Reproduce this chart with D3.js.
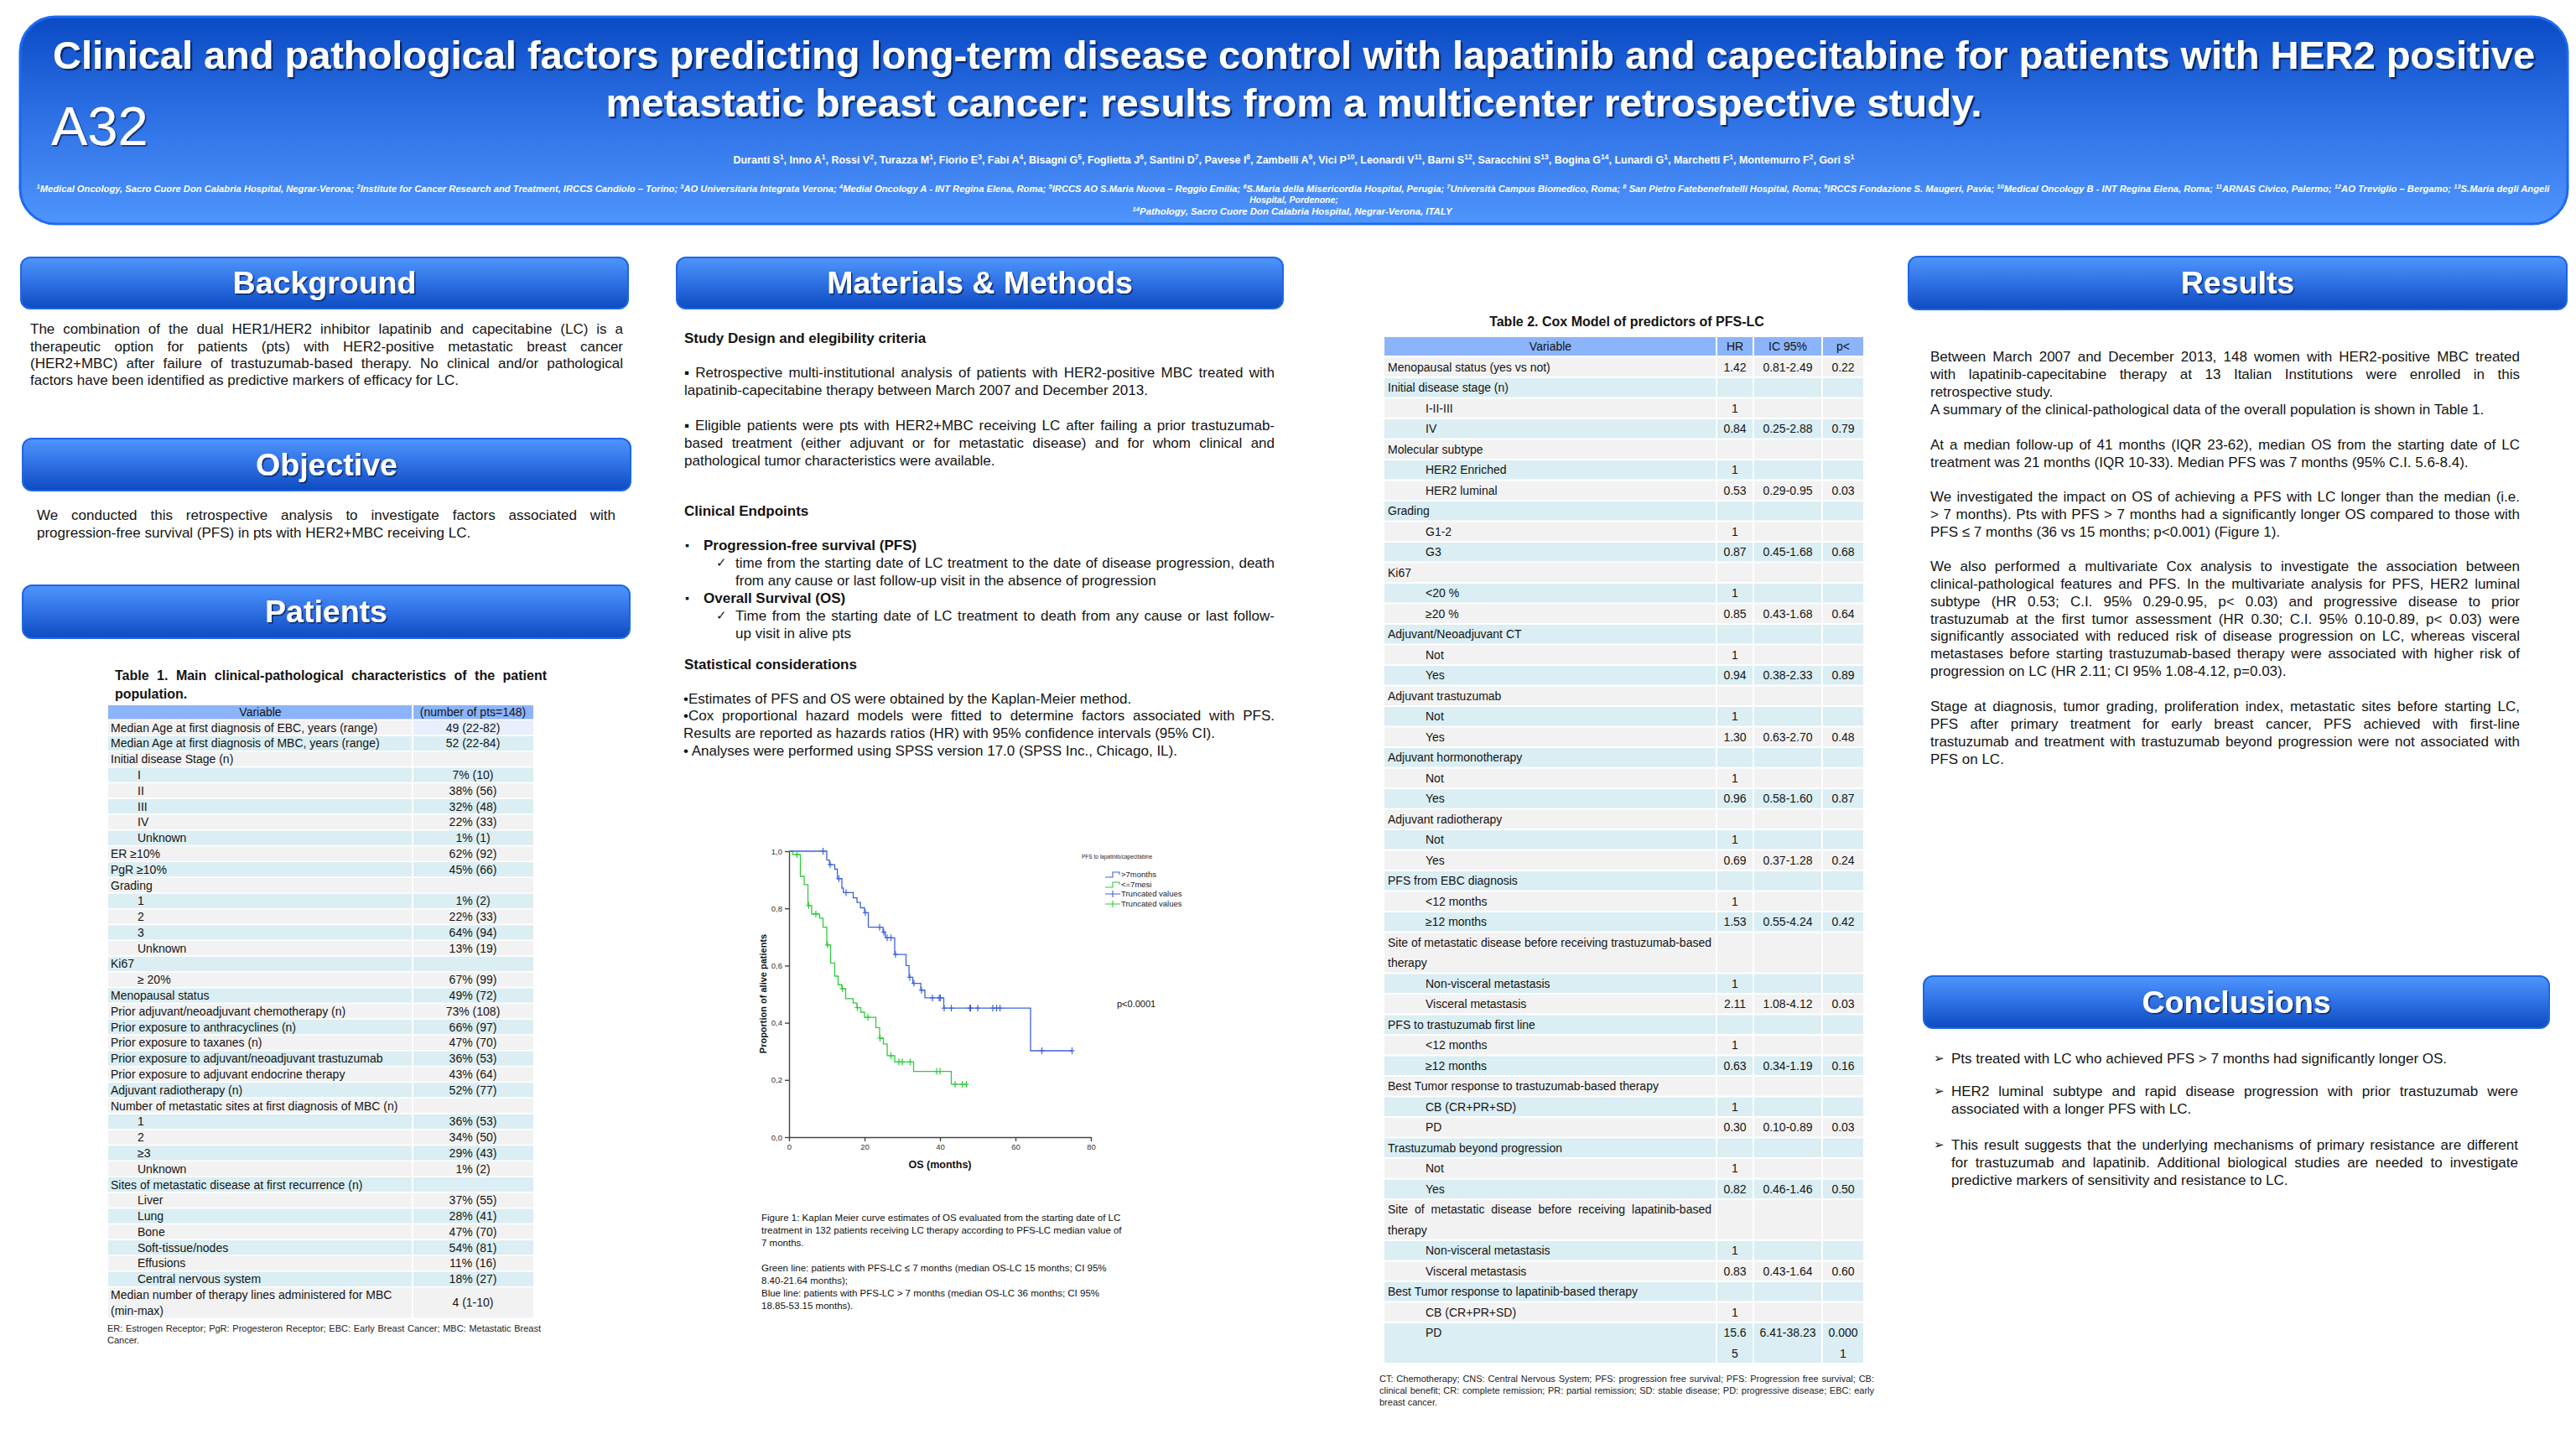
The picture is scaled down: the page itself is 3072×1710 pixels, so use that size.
<!DOCTYPE html>
<html><head><meta charset="utf-8">
<script src="https://cdn.jsdelivr.net/npm/d3@7"></script>
<style>html,body{margin:0;padding:0;background:#fff}svg{display:block}</style>
</head><body>
<svg id="poster" width="3072" height="1710" xmlns="http://www.w3.org/2000/svg"></svg>
<script>
// ===================== DATA =====================
const posterCode = "A32";
const titleLines = [
  "Clinical and pathological factors predicting long-term disease control with lapatinib and capecitabine for patients with HER2 positive",
  "metastatic breast cancer: results from a multicenter retrospective study."
];
const authors = [["Duranti S","1"],["Inno A","1"],["Rossi V","2"],["Turazza M","1"],["Fiorio E","3"],["Fabi A","4"],["Bisagni G","5"],["Foglietta J","6"],["Santini D","7"],["Pavese I","8"],["Zambelli A","9"],["Vici P","10"],["Leonardi V","11"],["Barni S","12"],["Saracchini S","13"],["Bogina G","14"],["Lunardi G","1"],["Marchetti F","1"],["Montemurro F","2"],["Gori S","1"]];
const affiliationsLine1 = [["1","Medical Oncology, Sacro Cuore Don Calabria Hospital, Negrar-Verona; "],["2","Institute for Cancer Research and Treatment, IRCCS Candiolo – Torino; "],["3","AO Universitaria Integrata Verona; "],["4","Medial Oncology A - INT Regina Elena, Roma; "],["5","IRCCS AO S.Maria Nuova – Reggio Emilia; "],["6","S.Maria della Misericordia Hospital, Perugia; "],["7","Università Campus Biomedico, Roma; "],["8"," San Pietro Fatebenefratelli Hospital, Roma; "],["9","IRCCS Fondazione S. Maugeri, Pavia; "],["10","Medical Oncology B - INT Regina Elena, Roma; "],["11","ARNAS Civico, Palermo; "],["12","AO Treviglio – Bergamo; "],["13","S.Maria degli Angeli"]];
const affiliationsLine2 = "Hospital, Pordenone;";
const affiliationsLine3 = [["14","Pathology, Sacro Cuore Don Calabria Hospital, Negrar-Verona, ITALY"]];

const sectionTitles = ["Background","Objective","Patients","Materials & Methods","Results","Conclusions"];

const backgroundText = [[
  "The combination of the dual HER1/HER2 inhibitor lapatinib and capecitabine (LC) is a",
  "therapeutic option for patients (pts) with HER2-positive metastatic breast cancer",
  "(HER2+MBC) after failure of trastuzumab-based therapy. No clinical and/or pathological",
  "factors have been identified as predictive markers of efficacy for LC."
]];
const objectiveText = [[
  "We conducted this retrospective analysis to investigate factors associated with",
  "progression-free survival (PFS) in pts with HER2+MBC receiving LC."
]];
const methodsHeadings = ["Study Design and elegibility criteria","Clinical Endpoints","Statistical considerations"];
const methodsDesign = [
  ["▪ Retrospective multi-institutional analysis of patients with HER2-positive MBC treated with",
   "lapatinib-capecitabine therapy between March 2007 and December 2013."],
  ["▪ Eligible patients were pts with HER2+MBC receiving LC after failing a prior trastuzumab-",
   "based treatment (either adjuvant or for metastatic disease) and for whom clinical and",
   "pathological tumor characteristics were available."]
];
const endpointNames = ["Progression-free survival (PFS)","Overall Survival (OS)"];
const endpointDefs = [
  ["time from the starting date of LC treatment to the date of disease progression, death",
   "from any cause or last follow-up visit in the absence of progression"],
  ["Time from the starting date of LC treatment to death from any cause or last follow-",
   "up visit in alive pts"]
];
const methodsStats = [
  ["•Estimates of PFS and OS were obtained by the Kaplan-Meier method."],
  ["•Cox proportional hazard models were fitted to determine factors associated with PFS.",
   "Results are reported as hazards ratios (HR) with 95% confidence intervals (95% CI)."],
  ["• Analyses were performed using SPSS version 17.0 (SPSS Inc., Chicago, IL)."]
];
const resultsText = [
  ["Between March 2007 and December 2013, 148 women with HER2-positive MBC treated",
   "with lapatinib-capecitabine therapy at 13 Italian Institutions were enrolled in this",
   "retrospective study."],
  ["A summary of the clinical-pathological data of the overall population is shown in Table 1."],
  ["At a median follow-up of 41 months (IQR 23-62), median OS from the starting date of LC",
   "treatment was 21 months (IQR 10-33). Median PFS was 7 months (95% C.I. 5.6-8.4)."],
  ["We investigated the impact on OS of achieving a PFS with LC longer than the median (i.e.",
   "> 7 months). Pts with PFS > 7 months had a significantly longer OS compared to those with",
   "PFS ≤ 7 months (36 vs 15 months; p<0.001) (Figure 1)."],
  ["We also performed a multivariate Cox analysis to investigate the association between",
   "clinical-pathological features and PFS. In the multivariate analysis for PFS, HER2 luminal",
   "subtype (HR 0.53; C.I. 95% 0.29-0.95, p< 0.03) and progressive disease to prior",
   "trastuzumab at the first tumor assessment (HR 0.30; C.I. 95% 0.10-0.89, p< 0.03) were",
   "significantly associated with reduced risk of disease progression on LC, whereas visceral",
   "metastases before starting trastuzumab-based therapy were associated with higher risk of",
   "progression on LC (HR 2.11; CI 95% 1.08-4.12, p=0.03)."],
  ["Stage at diagnosis, tumor grading, proliferation index, metastatic sites before starting LC,",
   "PFS after primary treatment for early breast cancer, PFS achieved with first-line",
   "trastuzumab and treatment with trastuzumab beyond progression were not associated with",
   "PFS on LC."]
];
const conclusionsText = [
  ["Pts treated with LC who achieved PFS > 7 months had significantly longer OS."],
  ["HER2 luminal subtype and rapid disease progression with prior trastuzumab were",
   "associated with a longer PFS with LC."],
  ["This result suggests that the underlying mechanisms of primary resistance are different",
   "for trastuzumab and lapatinib. Additional biological studies are needed to investigate",
   "predictive markers of sensitivity and resistance to LC."]
];

// Table 1
const t1Title = ["Table 1. Main clinical-pathological characteristics of the patient","population."];
const t1Header = ["Variable","(number of pts=148)"];
const t1Labels = ["Median Age at first diagnosis of EBC, years (range)","Median Age at first diagnosis of MBC, years (range)","Initial disease Stage (n)","I","II","III","IV","Unknown","ER ≥10%","PgR ≥10%","Grading","1","2","3","Unknown","Ki67","≥ 20%","Menopausal status","Prior adjuvant/neoadjuvant chemotherapy (n)","Prior exposure to anthracyclines (n)","Prior exposure to taxanes (n)","Prior exposure to adjuvant/neoadjuvant trastuzumab","Prior exposure to adjuvant endocrine therapy","Adjuvant radiotherapy (n)","Number of metastatic sites at first diagnosis of MBC (n)","1","2","≥3","Unknown","Sites of metastatic disease at first recurrence (n)","Liver","Lung","Bone","Soft-tissue/nodes","Effusions","Central nervous system","Median number of therapy lines administered for MBC\n(min-max)"];
const t1Levels = [0,0,0,1,1,1,1,1,0,0,0,1,1,1,1,0,1,0,0,0,0,0,0,0,0,1,1,1,1,0,1,1,1,1,1,1,0];
const t1Values = ["49 (22-82)","52 (22-84)","","7% (10)","38% (56)","32% (48)","22% (33)","1% (1)","62% (92)","45% (66)","","1% (2)","22% (33)","64% (94)","13% (19)","","67% (99)","49% (72)","73% (108)","66% (97)","47% (70)","36% (53)","43% (64)","52% (77)","","36% (53)","34% (50)","29% (43)","1% (2)","","37% (55)","28% (41)","47% (70)","54% (81)","11% (16)","18% (27)","4 (1-10)"];
const t1Footnote = ["ER: Estrogen Receptor; PgR: Progesteron Receptor; EBC: Early Breast Cancer; MBC: Metastatic Breast","Cancer."];

// Table 2
const t2Title = "Table 2. Cox Model  of predictors  of PFS-LC";
const t2Header = ["Variable","HR","IC 95%","p<"];
const t2Labels = ["Menopausal status (yes vs not)","Initial disease stage (n)","I-II-III","IV","Molecular subtype","HER2 Enriched","HER2 luminal","Grading","G1-2","G3","Ki67","<20 %","≥20 %","Adjuvant/Neoadjuvant CT","Not","Yes","Adjuvant trastuzumab","Not","Yes","Adjuvant hormonotherapy","Not","Yes","Adjuvant radiotherapy","Not","Yes","PFS from EBC diagnosis","<12 months","≥12 months","Site of metastatic disease before receiving trastuzumab-based\ntherapy","Non-visceral metastasis","Visceral metastasis"," PFS to trastuzumab first line","<12 months","≥12 months","Best Tumor response to trastuzumab-based therapy","CB (CR+PR+SD)","PD","Trastuzumab beyond progression","Not","Yes","Site of metastatic disease before receiving lapatinib-based\ntherapy","Non-visceral metastasis","Visceral metastasis","Best Tumor response to lapatinib-based therapy","CB (CR+PR+SD)","PD\n "];
const t2Levels = [0,0,1,1,0,1,1,0,1,1,0,1,1,0,1,1,0,1,1,0,1,1,0,1,1,0,1,1,0,1,1,0,1,1,0,1,1,0,1,1,0,1,1,0,1,1];
const t2HR = ["1.42","","1","0.84","","1","0.53","","1","0.87","","1","0.85","","1","0.94","","1","1.30","","1","0.96","","1","0.69","","1","1.53","","1","2.11","","1","0.63","","1","0.30","","1","0.82","","1","0.83","","1","15.6\n5"];
const t2CI = ["0.81-2.49","","","0.25-2.88","","","0.29-0.95","","","0.45-1.68","","","0.43-1.68","","","0.38-2.33","","","0.63-2.70","","","0.58-1.60","","","0.37-1.28","","","0.55-4.24","","","1.08-4.12","","","0.34-1.19","","","0.10-0.89","","","0.46-1.46","","","0.43-1.64","","","6.41-38.23"];
const t2P = ["0.22","","","0.79","","","0.03","","","0.68","","","0.64","","","0.89","","","0.48","","","0.87","","","0.24","","","0.42","","","0.03","","","0.16","","","0.03","","","0.50","","","0.60","","","0.000\n1"];
const t2Footnote = ["CT: Chemotherapy; CNS: Central Nervous System; PFS: progression free survival; PFS: Progression free survival; CB:","clinical benefit; CR: complete remission; PR: partial remission; SD: stable disease; PD: progressive disease; EBC: early","breast cancer."];

// Kaplan-Meier (OS, months)
const kmXTicks = [0,20,40,60,80];
const kmYTicks = [0,0.2,0.4,0.6,0.8,1.0];
const blueTimes = [10.0,10.7,12.1,12.8,14.0,14.4,17.0,18.0,18.9,20.0,21.0,24.9,25.5,28.0,31.0,31.8,32.8,34.9,36.0,41.0,64.0];
const blueSurv  = [0.969,0.953,0.937,0.904,0.871,0.855,0.837,0.821,0.802,0.785,0.734,0.717,0.697,0.639,0.600,0.559,0.538,0.514,0.487,0.451,0.302];
const blueEnd = 75;
const blueCensor = [9.0,10.9,13.2,15.1,20.2,24.0,25.1,26.0,27.0,28.2,32.0,33.1,35.1,38.0,39.8,40.1,41.1,43.0,47.9,48.1,50.0,54.0,55.0,55.9,67.0,75.0];
const greenTimes = [1.0,3.0,4.0,5.0,6.0,8.1,9.0,10.0,11.0,12.1,13.0,14.0,15.0,17.0,18.0,19.0,20.0,23.0,24.0,25.0,26.0,28.0,33.0,43.0];
const greenSurv  = [0.988,0.912,0.883,0.810,0.780,0.766,0.734,0.672,0.609,0.563,0.533,0.519,0.484,0.469,0.453,0.437,0.419,0.383,0.346,0.326,0.285,0.263,0.230,0.185];
const greenEnd = 47;
const greenCensor = [2.1,5.2,7.1,10.2,14.1,18.1,20.9,24.1,27.0,29.1,30.0,32.1,39.1,40.0,44.0,45.9,47.0];
const kmLegendTitle = "PFS to lapatinib/capecitabine";
const kmLegend = [">7months","<=7mesi","Truncated values","Truncated values"];
const kmPText = "p<0.0001";
const kmXLabel = "OS (months)";
const kmYLabel = "Proportion of alive patients";
const figCaption = [
  ["Figure 1: Kaplan Meier curve estimates of OS evaluated from the starting date of LC",
   "treatment in 132 patients receiving LC therapy according to PFS-LC median value of",
   "7 months."],
  ["Green line: patients with PFS-LC ≤ 7 months (median OS-LC 15 months; CI 95%",
   "8.40-21.64 months);",
   "Blue line: patients with PFS-LC > 7 months (median OS-LC 36 months; CI 95%",
   "18.85-53.15 months)."]
];

// ===================== DRAWING =====================
const FONT = "'Liberation Sans', Arial, Helvetica, sans-serif";
const NARROW = "'Liberation Sans Narrow', 'Liberation Sans', Arial, sans-serif";
const INK = "#141414";
const svg = d3.select("#poster");
const defs = svg.append("defs");
function linGrad(id, stops){
  const g = defs.append("linearGradient").attr("id",id).attr("x1",0).attr("y1",0).attr("x2",0).attr("y2",1);
  stops.forEach(([o,c])=>g.append("stop").attr("offset",o).attr("stop-color",c));
}
linGrad("hdrGrad", [[0,"#0a4bc4"],[0.5,"#2f72e6"],[1,"#4f95fc"]]);
linGrad("secGrad", [[0,"#4e96fc"],[0.5,"#2f70e4"],[1,"#0c4bc0"]]);
function shadow(id, d){
  const f = defs.append("filter").attr("id",id).attr("x","-5%").attr("y","-30%").attr("width","110%").attr("height","160%");
  f.append("feDropShadow").attr("dx",d).attr("dy",d).attr("stdDeviation",0.7).attr("flood-color","#031a4a").attr("flood-opacity",0.8);
}
shadow("tshadow", 2.2); shadow("sshadow", 1.5);

const ctx = document.createElement("canvas").getContext("2d");
function tw(str, size, weight, style){ ctx.font = `${style||"normal"} ${weight||"normal"} ${size}px ${FONT}`; return ctx.measureText(str).width; }

function line(g, str, x, yc, o){
  o = o || {};
  const size = o.size||17, weight=o.weight||"normal", style=o.style||"normal";
  const t = g.append("text").attr("y", yc + size*0.36).attr("font-size",size)
    .attr("font-weight",weight).attr("font-style",style).attr("fill",o.fill||INK).attr("font-family",FONT);
  if (o.justify){
    const words = str.split(/\s+/).filter(Boolean);
    const ws = words.map(w=>tw(w,size,weight,style));
    const gap = words.length>1 ? (o.justify - d3.sum(ws))/(words.length-1) : 0;
    let cx = x;
    words.forEach((w,i)=>{ t.append("tspan").attr("x",cx).text(w); cx += ws[i]+gap; });
  } else {
    t.attr("x",x).attr("text-anchor",o.anchor||"start").text(str);
  }
  return t;
}
function para(g, lines, x, y0, width, lh, o){
  lines.forEach((ln,i)=>{
    line(g, ln, x, y0+i*lh, Object.assign({}, o, {justify: (i<lines.length-1 && width) ? width : null}));
  });
}

// ---------- Header ----------
const hdr = svg.append("g");
hdr.append("rect").attr("x",24).attr("y",20).attr("width",3038).attr("height",247).attr("rx",42)
  .attr("fill","url(#hdrGrad)").attr("stroke","#1d6af0").attr("stroke-width",3);
const titleW = [2960, 1641];
const titleBase = [82, 139];
titleLines.forEach((s,i)=>{
  hdr.append("text").attr("x",1543).attr("y",titleBase[i]).attr("text-anchor","middle")
    .attr("font-family",FONT).attr("font-weight","bold").attr("font-size",47).attr("fill","#fff")
    .attr("textLength",titleW[i]).attr("lengthAdjust","spacingAndGlyphs")
    .attr("filter","url(#tshadow)").text(s);
});
hdr.append("text").attr("x",61).attr("y",173).attr("font-family",FONT).attr("font-size",65)
  .attr("fill","#fff").attr("filter","url(#sshadow)").text(posterCode);

function supText(g, items, x, y, size, len, opts){
  const t = g.append("text").attr("x",x).attr("y",y).attr("text-anchor","middle")
    .attr("font-family",NARROW).attr("font-weight","bold").attr("font-style",opts.italic?"italic":"normal")
    .attr("font-size",size).attr("fill","#fff");
  if (len) t.attr("textLength",len).attr("lengthAdjust","spacingAndGlyphs");
  items.forEach(([a,b],i)=>{
    if (opts.supFirst){
      t.append("tspan").attr("font-size",size*0.68).attr("baseline-shift","super").text(a);
      t.append("tspan").attr("baseline-shift","0").text(b);
    } else {
      t.append("tspan").text(a);
      t.append("tspan").attr("font-size",size*0.68).attr("baseline-shift","super").text(b);
      if (i<items.length-1) t.append("tspan").text(", ");
    }
  });
  return t;
}
supText(hdr, authors, 1543, 195, 13, 1337, {});
supText(hdr, affiliationsLine1, 1542, 229, 10.5, 2997, {italic:true, supFirst:true});
hdr.append("text").attr("x",1543).attr("y",242).attr("text-anchor","middle").attr("font-family",NARROW)
  .attr("font-weight","bold").attr("font-style","italic").attr("font-size",10.5).attr("fill","#fff").text(affiliationsLine2);
supText(hdr, affiliationsLine3, 1541, 256, 10.5, 381, {italic:true, supFirst:true});

// ---------- Section boxes ----------
const secBoxes = [
  [25,307,724,61],[27,523,725,62],[27,698,724,63],[807,307,723,61],[2276,306,785,63],[2294,1164,746,62]
];
sectionTitles.forEach((s,i)=>{
  const [x,y,w,h] = secBoxes[i];
  const g = svg.append("g");
  g.append("rect").attr("x",x).attr("y",y).attr("width",w).attr("height",h).attr("rx",11)
    .attr("fill","url(#secGrad)").attr("stroke","#1f66e6").attr("stroke-width",2);
  g.append("text").attr("x",x+w/2).attr("y",y+h/2+12.5).attr("text-anchor","middle")
    .attr("font-family",FONT).attr("font-weight","bold").attr("font-size",37.5).attr("fill","#fff")
    .attr("filter","url(#sshadow)").text(s);
});

// ---------- Background / Objective ----------
const txt = svg.append("g");
para(txt, backgroundText[0], 36, 392, 707, 20.4, {size:17});
para(txt, objectiveText[0], 44, 614, 690, 21, {size:17});

// ---------- Methods ----------
line(txt, methodsHeadings[0], 816, 403, {size:17, weight:"bold"});
para(txt, methodsDesign[0], 816, 444, 704, 21, {size:17});
para(txt, methodsDesign[1], 816, 507, 704, 21, {size:17});
line(txt, methodsHeadings[1], 816, 609, {size:17, weight:"bold"});
const epY = [650, 713];
endpointNames.forEach((n,i)=>{
  line(txt, "▪", 817, epY[i], {size:14});
  line(txt, n, 839, epY[i], {size:17, weight:"bold"});
  line(txt, "✓", 854, epY[i]+21, {size:15});
  para(txt, endpointDefs[i], 877, epY[i]+21, 643, 21, {size:17});
});
line(txt, methodsHeadings[2], 816, 792, {size:17, weight:"bold"});
para(txt, methodsStats[0], 815, 833, 705, 20.8, {size:17});
para(txt, methodsStats[1], 815, 853, 705, 20.8, {size:17});
para(txt, methodsStats[2], 815, 895, 705, 20.8, {size:17});

// ---------- Results ----------
const resY = [425, 488, 530, 592, 675, 842];
resultsText.forEach((p,i)=> para(txt, p, 2302, resY[i], 703, 20.8, {size:17}));

// ---------- Conclusions ----------
const conY = [1262, 1301, 1365];
conclusionsText.forEach((p,i)=>{
  line(txt, "➢", 2306, conY[i], {size:15});
  para(txt, p, 2327, conY[i], 676, 21, {size:17});
});

// ---------- Table 1 ----------
const GREY="#f2f2f2", TEAL="#daeef3", LAV="#e7eefc", HEAD="#8cb4fa";
const t1 = svg.append("g");
line(t1, t1Title[0], 137, 805, {size:16, weight:"bold", justify:515});
line(t1, t1Title[1], 137, 827, {size:16, weight:"bold"});
const T1X = [129, 492, 636];
t1.append("rect").attr("x",T1X[0]).attr("y",841).attr("width",T1X[1]-T1X[0]-1).attr("height",16.5).attr("fill",HEAD);
t1.append("rect").attr("x",T1X[1]+1).attr("y",841).attr("width",T1X[2]-T1X[1]-1).attr("height",16.5).attr("fill",HEAD);
line(t1, t1Header[0], (T1X[0]+T1X[1])/2, 849.3, {size:14, anchor:"middle"});
line(t1, t1Header[1], (T1X[1]+T1X[2])/2, 849.3, {size:14, anchor:"middle"});
{
  const top = 859, rh = 18.79; let u = 0;
  t1Labels.forEach((lab,i)=>{
    const ls = lab.split("\n"), n = ls.length, y = top+u*rh, h = n*rh;
    const fill = i%2===0 ? GREY : TEAL;
    t1.append("rect").attr("x",T1X[0]).attr("y",y).attr("width",T1X[1]-T1X[0]-1).attr("height",h-1.6).attr("fill",fill);
    t1.append("rect").attr("x",T1X[1]+1).attr("y",y).attr("width",T1X[2]-T1X[1]-1).attr("height",h-1.6).attr("fill",i===0?LAV:fill);
    ls.forEach((l,k)=> line(t1, l, t1Levels[i]?164:132, y+(k+0.5)*rh-0.8, {size:14}));
    if (t1Values[i]) line(t1, t1Values[i], (T1X[1]+T1X[2])/2, y+h/2-0.8, {size:14, anchor:"middle"});
    u += n;
  });
}
line(t1, t1Footnote[0], 128, 1584, {size:11, justify:517, fill:"#222"});
line(t1, t1Footnote[1], 128, 1598, {size:11, fill:"#222"});

// ---------- Table 2 ----------
const t2 = svg.append("g");
line(t2, t2Title, 1940, 383, {size:16, weight:"bold", anchor:"middle"});
const T2X = [1651, 2047, 2091, 2173, 2223];
for (let c=0;c<4;c++){
  t2.append("rect").attr("x",T2X[c]+(c?1:0)).attr("y",402).attr("width",T2X[c+1]-T2X[c]-(c?2:1)).attr("height",22).attr("fill",HEAD);
  line(t2, t2Header[c], (T2X[c]+T2X[c+1])/2, 413, {size:14, anchor:"middle"});
}
{
  const top = 426.5, rh = 24.5; let u = 0;
  const cols = [t2HR, t2CI, t2P];
  t2Labels.forEach((lab,i)=>{
    const ls = lab.split("\n"), n = ls.length, y = top+u*rh, h = n*rh;
    const fill = i%2===0 ? GREY : TEAL;
    for (let c=0;c<4;c++){
      t2.append("rect").attr("x",T2X[c]+(c?1:0)).attr("y",y).attr("width",T2X[c+1]-T2X[c]-(c?2:1)).attr("height",h-2).attr("fill",fill);
    }
    ls.forEach((l,k)=>{
      if (!l.trim()) return;
      const jw = (k<ls.length-1 && ls[k+1].trim()) ? 386 : null;
      line(t2, l, t2Levels[i]?1700:1655, y+(k+0.5)*rh-1, {size:14, justify:jw});
    });
    cols.forEach((arr,c)=>{
      arr[i].split("\n").forEach((v,k)=>{
        if (v) line(t2, v, (T2X[c+1]+T2X[c+2])/2, y+(k+0.5)*rh-1, {size:14, anchor:"middle"});
      });
    });
    u += n;
  });
}
t2Footnote.forEach((s,i)=> line(t2, s, 1645, 1644+i*14, {size:11, fill:"#222", justify: i<2?590:null}));

// ---------- Kaplan-Meier chart ----------
const km = svg.append("g");
const xS = d3.scaleLinear().domain([0,80]).range([941,1301]);
const yS = d3.scaleLinear().domain([0,1]).range([1356,1015]);
const xAx = km.append("g").attr("transform","translate(0,1356)")
  .call(d3.axisBottom(xS).tickValues(kmXTicks).tickSize(5).tickSizeOuter(0));
const yAx = km.append("g").attr("transform","translate(941,0)")
  .call(d3.axisLeft(yS).tickValues(kmYTicks).tickSize(5).tickSizeOuter(0).tickFormat(d=>d3.format(".1f")(d).replace(".",",")));
[xAx,yAx].forEach(a=>{
  a.selectAll("path,line").attr("stroke","#444").attr("stroke-width",1.4);
  a.selectAll("text").attr("font-family",FONT).attr("font-size",9.5).attr("fill","#333");
});
const BLUE="#3f63dc", GREEN="#2fcc3c";
function kmSeries(times, surv, end, cens, color){
  const pts = [[0,1]].concat(times.map((t,i)=>[t,surv[i]])).concat([[end, surv[surv.length-1]]]);
  km.append("path").datum(pts).attr("fill","none").attr("stroke",color).attr("stroke-width",1.3)
    .attr("d", d3.line().x(d=>xS(d[0])).y(d=>yS(d[1])).curve(d3.curveStepAfter));
  const survAt = t => { let s = 1; times.forEach((tt,i)=>{ if (tt<=t) s = surv[i]; }); return s; };
  cens.forEach(t=>{
    const cx = xS(t), cy = yS(survAt(t));
    km.append("line").attr("x1",cx).attr("x2",cx).attr("y1",cy-4).attr("y2",cy+4).attr("stroke",color).attr("stroke-width",1.2);
    km.append("line").attr("x1",cx-3).attr("x2",cx+3).attr("y1",cy).attr("y2",cy).attr("stroke",color).attr("stroke-width",1.2);
  });
}
kmSeries(greenTimes, greenSurv, greenEnd, greenCensor, GREEN);
kmSeries(blueTimes, blueSurv, blueEnd, blueCensor, BLUE);

km.append("text").attr("transform","translate(914,1185) rotate(-90)").attr("text-anchor","middle")
  .attr("font-family",FONT).attr("font-weight","bold").attr("font-size",11).attr("fill","#111").text(kmYLabel);
km.append("text").attr("x",1121).attr("y",1393).attr("text-anchor","middle")
  .attr("font-family",FONT).attr("font-weight","bold").attr("font-size",12.5).attr("fill","#111").text(kmXLabel);
line(km, kmPText, 1332, 1197, {size:11, fill:"#111"});
line(km, kmLegendTitle, 1290, 1022, {size:6.5, fill:"#222"});
const legY = [1043, 1055, 1066, 1078], legC = [BLUE, GREEN, BLUE, GREEN];
kmLegend.forEach((s,i)=>{
  const y = legY[i], c = legC[i];
  if (i<2){
    km.append("path").attr("fill","none").attr("stroke",c).attr("stroke-width",1.1)
      .attr("d",`M1318,${y+3}H1327V${y-3}H1335V${y}`);
  } else {
    km.append("path").attr("fill","none").attr("stroke",c).attr("stroke-width",1.1)
      .attr("d",`M1318,${y}H1336M1327,${y-4}V${y+4}`);
  }
  line(km, s, 1337, y, {size:9.5, fill:"#222"});
});
// caption
para(km, figCaption[0], 908, 1452, null, 14.8, {size:11.5, fill:"#111"});
para(km, figCaption[1], 908, 1512, null, 14.8, {size:11.5, fill:"#111"});
</script>
</body></html>
